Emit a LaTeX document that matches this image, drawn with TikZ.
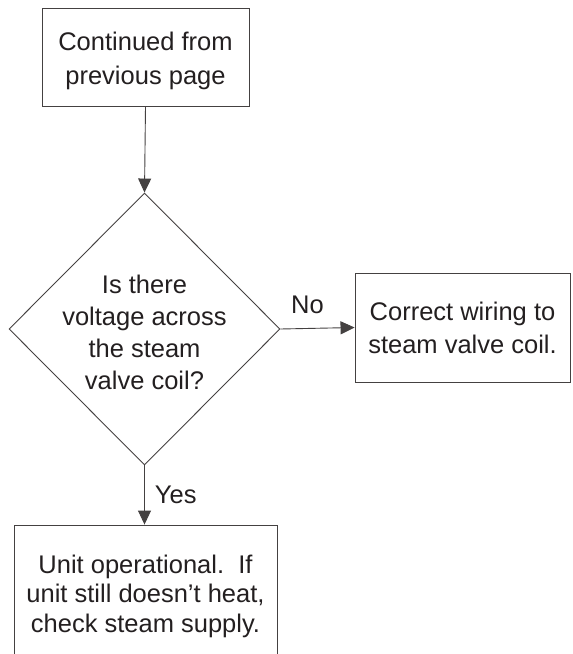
\documentclass[tikz,border=0pt]{standalone}
\usepackage{fontspec}
\setmainfont{Liberation Sans}
\usetikzlibrary{shapes.geometric,arrows.meta}
\definecolor{ink}{HTML}{231F20}
\begin{document}
\begin{tikzpicture}[x=1pt,y=-1pt,
  every node/.style={text=ink},
  boxnode/.style={draw=ink!85, line width=0.9pt, rectangle, inner sep=0pt},
  txt/.style={align=center, inner sep=0pt},
  lbl/.style={inner sep=0pt, font=\fontsize{25.5}{29}\selectfont},
  conn/.style={draw=ink!85, line width=0.9pt, -{Triangle[length=14pt,width=13pt]}}]
\useasboundingbox (0,0) rectangle (573,654);
\clip (0,0) rectangle (573,654);
\node[boxnode, minimum width=207pt, minimum height=98pt,
  label={[txt, font=\fontsize{25.5}{34}\selectfont, yshift=-4pt]center:{Continued from\\previous page}}] (top) at (145.5,57) {};
\node[draw=ink!85, line width=0.9pt, diamond, minimum width=271pt, minimum height=272pt, inner sep=0pt,
  label={[txt, font=\fontsize{25.5}{32}\selectfont, yshift=-3pt]center:{Is there\\voltage across\\the steam\\valve coil?}}] (d) at (144.5,329) {};
\node[boxnode, minimum width=215pt, minimum height=109pt,
  label={[txt, font=\fontsize{25.5}{33}\selectfont]center:{Correct wiring to\\steam valve coil.}}] (r) at (462.5,327.5) {};
\node[boxnode, minimum width=263pt, minimum height=136pt,
  label={[txt, font=\fontsize{25.5}{29.5}\selectfont, yshift=-3pt]center:{Unit operational.\ \ If\\unit still doesn't heat,\\check steam supply.}}] (b) at (145.5,593) {};
\draw[conn] (top.south) -- (d.north);
\draw[conn] (d.east) -- node[lbl, above=14pt, xshift=-10pt] (no) {No} (r.west);
\draw[conn] (d.south) -- node[lbl, right=10pt] (yes) {Yes} (d.south |- b.north);
\end{tikzpicture}
\end{document}
